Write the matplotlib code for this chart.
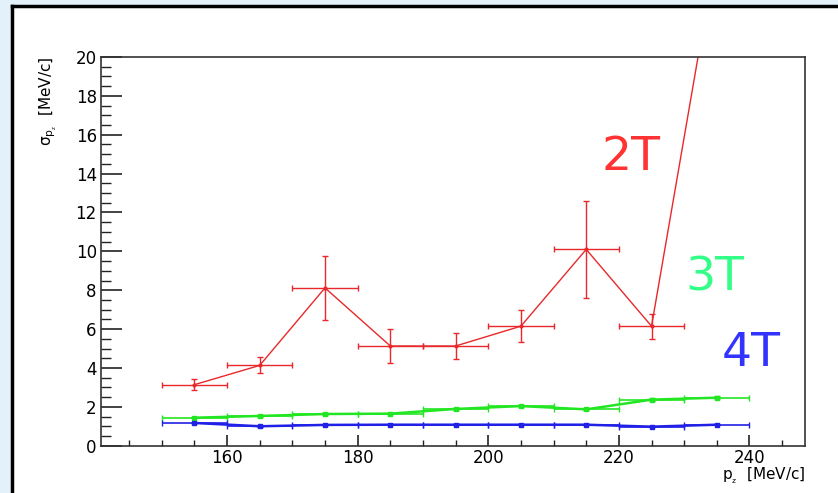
import numpy as np
import matplotlib.pyplot as plt
from matplotlib.patches import Rectangle
from matplotlib.lines import Line2D
from matplotlib.ticker import MultipleLocator

# datos (pz centro de bin, sigma y errores)
pz = [155, 165, 175, 185, 195, 205, 215, 225, 235]
pz_err = 5

sigma_2T = [3.14, 4.13, 8.12, 5.13, 5.13, 6.15, 10.1, 6.15, 25.6]
err_2T = [0.28, 0.41, 1.65, 0.87, 0.65, 0.83, 2.5, 0.65, 3.0]

sigma_3T = [1.44, 1.53, 1.63, 1.65, 1.89, 2.04, 1.87, 2.37, 2.47]
err_3T = [0.03, 0.03, 0.04, 0.04, 0.06, 0.07, 0.05, 0.09, 0.09]

sigma_4T = [1.17, 1.0, 1.07, 1.08, 1.08, 1.08, 1.08, 0.98, 1.08]
err_4T = [0.02, 0.02, 0.02, 0.02, 0.02, 0.02, 0.02, 0.02, 0.02]

W, H = 838, 493
fig = plt.figure(figsize=(W / 100, H / 100), dpi=100, facecolor='#e3f1fb')

# marco blanco con borde negro (captura de pantalla de ROOT)
fig.patches.append(Rectangle((13 / W, 0), 1 - 13 / W, 1 - 6 / H,
                             transform=fig.transFigure, facecolor='white',
                             edgecolor='none', zorder=-5))
fig.lines.append(Line2D([12 / W, 12 / W], [0, 1 - 6 / H], transform=fig.transFigure,
                        color='black', lw=2.5, zorder=-4))
fig.lines.append(Line2D([12 / W, 1], [1 - 6 / H, 1 - 6 / H], transform=fig.transFigure,
                        color='black', lw=2.5, zorder=-4))

ax = fig.add_axes([101 / W, 1 - 445.7 / H, (805 - 101) / W, (445.7 - 57) / H])
ax.set_facecolor('white')

ax.errorbar(pz, sigma_2T, xerr=pz_err, yerr=err_2T, color='#e8282a', lw=1.0,
            elinewidth=1.0, capsize=2.5, marker='o', ms=2)
ax.errorbar(pz, sigma_3T, xerr=pz_err, yerr=err_3T, color='#22e622', lw=1.8,
            elinewidth=1.2, capsize=2.5, marker='s', ms=3)
ax.errorbar(pz, sigma_4T, xerr=pz_err, yerr=err_4T, color='#2020e6', lw=1.8,
            elinewidth=1.2, capsize=2.5, marker='s', ms=3)

ax.set_xlim(140.7, 248.5)
ax.set_ylim(0, 20)

ax.xaxis.set_major_locator(MultipleLocator(20))
ax.xaxis.set_minor_locator(MultipleLocator(5))
ax.yaxis.set_major_locator(MultipleLocator(2))
ax.yaxis.set_minor_locator(MultipleLocator(0.5))
ax.set_xticks([160, 180, 200, 220, 240])

ax.tick_params(axis='both', which='both', direction='in', top=False, right=False,
               color='#222222', labelsize=12)
ax.tick_params(axis='y', which='major', length=15, width=1.2, pad=3)
ax.tick_params(axis='y', which='minor', length=7, width=1.0)
ax.tick_params(axis='x', which='major', length=8, width=1.2, pad=2.5)
ax.tick_params(axis='x', which='minor', length=4.5, width=1.0)
for s in ax.spines.values():
    s.set_color('#333333')
    s.set_linewidth(1.2)

# etiquetas de ejes estilo ROOT
fig.text(805 / W, 1 - 476 / H, r'$\mathregular{p_{_z}}$  [MeV/c]', ha='right', va='center',
         fontsize=11)
fig.text(48 / W, 1 - 57 / H, r'$\mathregular{\sigma_{p_{_z}}}$  [MeV/c]', rotation=90,
         ha='center', va='top', fontsize=11)

# etiquetas de campo
fig.text(631 / W, 1 - 157.5 / H, '2T', color='#ff3333', fontsize=34, ha='center', va='center')
fig.text(714.5 / W, 1 - 278 / H, '3T', color='#33ff88', fontsize=34, ha='center', va='center')
fig.text(751 / W, 1 - 354 / H, '4T', color='#3333ff', fontsize=34, ha='center', va='center')

fig.savefig('out.png', dpi=100, facecolor=fig.get_facecolor())
